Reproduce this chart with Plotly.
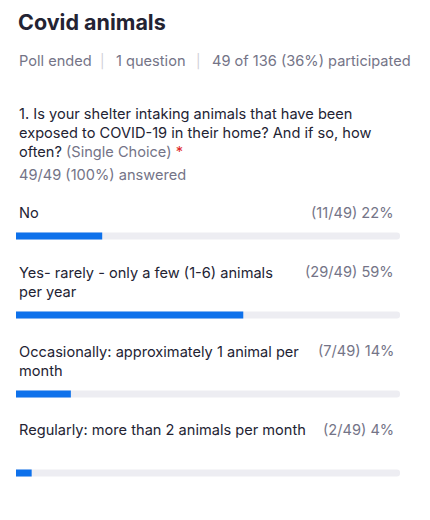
import plotly.graph_objects as go

# ---- data ----
title = "Covid animals"
poll_status = "Poll ended"
question_count = "1 question"
participation = "49 of 136 (36%) participated"
question = "1. Is your shelter intaking animals that have been<br>exposed to COVID-19 in their home? And if so, how<br>often?"
answered = "49/49 (100%) answered"
options = [
    "No",
    "Yes- rarely - only a few (1-6) animals<br>per year",
    "Occasionally: approximately 1 animal per<br>month",
    "Regularly: more than 2 animals per month",
]
counts = [11, 29, 7, 2]
total = 49

W, H = 430, 520
OFF = 8  # page body margin
L, R = 16 - OFF, 400 - OFF
bar_y = [236, 315, 394, 473]
label_y = [213, 282, 361, 430]

pct = [c / total * 100 for c in counts]
pct_round = [round(p) for p in pct]

DARK = "#232333"
GRAY = "#747487"
SEP = "#D0D0D8"
BLUE = "#0E71EB"
TRACK = "#EDEDF2"
FONT = "Inter, Roboto, sans-serif"
FS = 14.6

fig = go.Figure()
fig.add_trace(go.Bar(x=[100] * len(counts), y=bar_y, orientation="h", width=7,
                     marker=dict(color=TRACK, line=dict(width=0)), hoverinfo="skip"))
fig.add_trace(go.Bar(x=pct, y=bar_y, orientation="h", width=7,
                     marker=dict(color=BLUE, line=dict(width=0)), hoverinfo="skip"))

ann = []
def px(x):
    return (x - OFF) / W

ann.append(dict(x=px(16), y=22, text=f"<b>{title}</b>", font=dict(size=21.5, color=DARK)))
ann.append(dict(x=px(17), y=61, text=poll_status, font=dict(size=FS, color=GRAY)))
ann.append(dict(x=px(102), y=61, text="|", xanchor="center", font=dict(size=FS - 1, color=SEP)))
ann.append(dict(x=px(114), y=61, text=question_count, font=dict(size=FS, color=GRAY)))
ann.append(dict(x=px(198), y=61, text="|", xanchor="center", font=dict(size=FS - 1, color=SEP)))
ann.append(dict(x=px(210), y=61, text=participation, font=dict(size=FS, color=GRAY)))
ann.append(dict(x=px(17), y=133,
                text=question + " <span style='color:#747487'>(Single Choice)</span> <span style='color:#E02828'>*</span>",
                font=dict(size=FS, color=DARK), align="left"))
ann.append(dict(x=px(17), y=175, text=answered, font=dict(size=FS, color=GRAY)))

for lab, ly, c, p in zip(options, label_y, counts, pct_round):
    ann.append(dict(x=px(17), y=ly, text=lab, font=dict(size=FS, color=DARK), align="left"))
    top = ly - 10 if "<br>" in lab else ly
    ann.append(dict(x=px(396), y=top, text=f"({c}/{total}) {p}%", xanchor="right",
                    font=dict(size=FS, color=GRAY)))

for a in ann:
    a.setdefault("xanchor", "left")
    a.update(xref="paper", yref="y", yanchor="middle", showarrow=False)

fig.update_layout(
    width=W, height=H, margin=dict(l=0, r=0, t=0, b=0),
    paper_bgcolor="white", plot_bgcolor="white",
    barmode="overlay", barcornerradius=4, showlegend=False,
    font=dict(family=FONT),
    xaxis=dict(range=[0, 100], domain=[L / W, R / W], visible=False, fixedrange=True),
    yaxis=dict(range=[H + OFF, OFF], domain=[0, 1], visible=False, fixedrange=True),
    annotations=ann,
)
fig.write_html("out.html")
